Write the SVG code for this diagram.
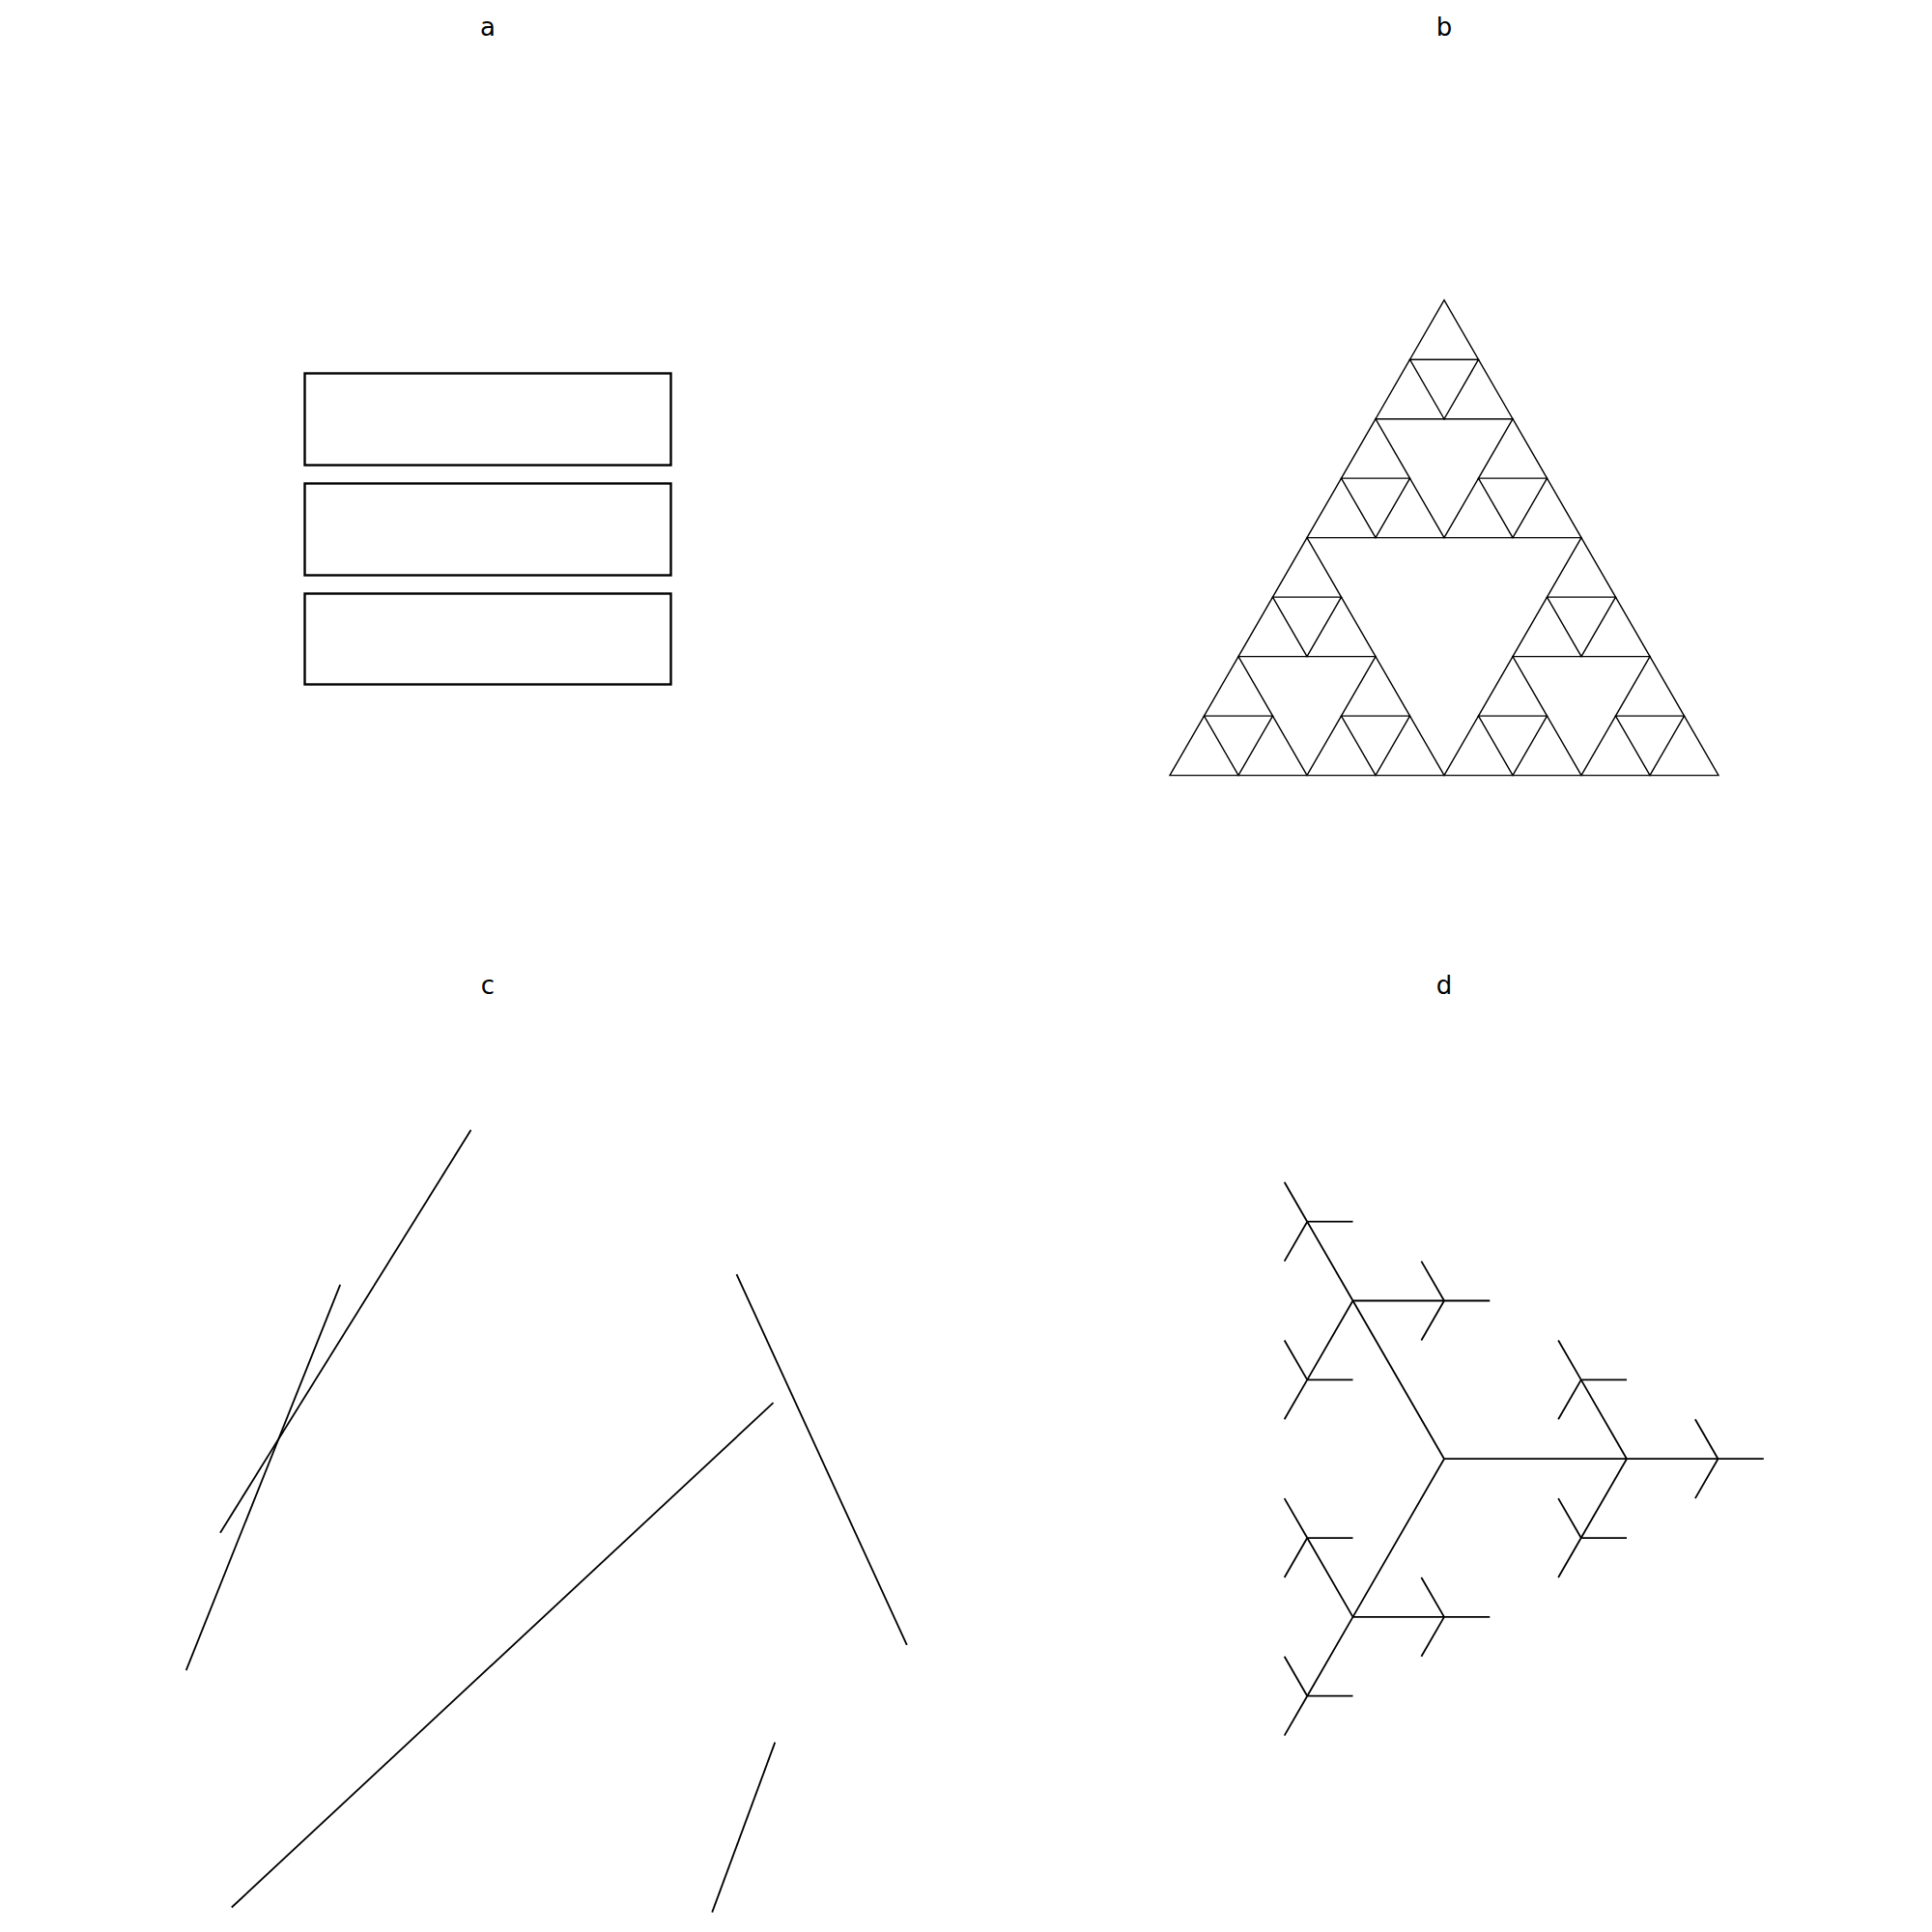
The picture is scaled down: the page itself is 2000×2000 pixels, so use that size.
<svg xmlns="http://www.w3.org/2000/svg" xmlns:xlink="http://www.w3.org/1999/xlink" width="2000" height="2000" viewBox="0 0 2000 2000">
<style>
.lbl{font-family:"DejaVu Sans","Liberation Sans",sans-serif;font-size:26px;fill:#000;text-anchor:middle}
.box{fill:none;stroke:#000;stroke-width:2.4}
.tri{fill:none;stroke:#000;stroke-width:1.4;stroke-linejoin:miter}
.ln{stroke:#000;stroke-width:1.8;fill:none;stroke-linecap:butt}
</style>
<defs>
<path id="t3" class="tri" d="M0,0 L-35.5,61.49 L35.5,61.49 Z"/>
<g id="t2">
<use xlink:href="#t3" href="#t3"/>
<use xlink:href="#t3" href="#t3" x="-35.5" y="61.49"/>
<use xlink:href="#t3" href="#t3" x="35.5" y="61.49"/>
</g>
<g id="t1">
<use xlink:href="#t2" href="#t2"/>
<use xlink:href="#t2" href="#t2" x="-71" y="122.98"/>
<use xlink:href="#t2" href="#t2" x="71" y="122.98"/>
</g>
<path id="y3" class="ln" d="M0,0 L47.25,0 M0,0 L-23.625,-40.92 M0,0 L-23.625,40.92"/>
<g id="y2">
<path class="ln" d="M0,0 L94.5,0 M0,0 L-47.25,-81.84 M0,0 L-47.25,81.84"/>
<use xlink:href="#y3" href="#y3" x="94.5" y="0"/>
<use xlink:href="#y3" href="#y3" x="-47.25" y="-81.84"/>
<use xlink:href="#y3" href="#y3" x="-47.25" y="81.84"/>
</g>
</defs>

<g id="panel-a">
<text class="lbl" x="505" y="37">a</text>
<rect id="box1" class="box" x="315.5" y="386.5" width="379" height="95"/>
<rect id="box2" class="box" x="315.5" y="500.5" width="379" height="95"/>
<rect id="box3" class="box" x="315.5" y="614.5" width="379" height="94"/>
</g>

<g id="panel-b">
<text class="lbl" x="1495" y="37">b</text>
<g id="sierpinski" transform="translate(1495,310.7)">
<use xlink:href="#t1" href="#t1"/>
<use xlink:href="#t1" href="#t1" x="-142" y="245.95"/>
<use xlink:href="#t1" href="#t1" x="142" y="245.95"/>
</g>
</g>

<g id="panel-c">
<text class="lbl" x="505" y="1029">c</text>
<line class="ln" x1="487.5" y1="1169.8" x2="228" y2="1586.7"/>
<line class="ln" x1="352.2" y1="1329.8" x2="192.7" y2="1729.2"/>
<line class="ln" x1="800.5" y1="1452.2" x2="239.8" y2="1974.5"/>
<line class="ln" x1="762.5" y1="1319.2" x2="938.8" y2="1702.8"/>
<line class="ln" x1="802.3" y1="1803.6" x2="737.2" y2="1979.6"/>
</g>

<g id="panel-d">
<text class="lbl" x="1495" y="1029">d</text>
<g id="tree" transform="translate(1495,1510.2)">
<path class="ln" d="M0,0 L189,0 M0,0 L-94.5,-163.68 M0,0 L-94.5,163.68"/>
<use xlink:href="#y2" href="#y2" x="189" y="0"/>
<use xlink:href="#y2" href="#y2" x="-94.5" y="-163.68"/>
<use xlink:href="#y2" href="#y2" x="-94.5" y="163.68"/>
</g>
</g>
</svg>
